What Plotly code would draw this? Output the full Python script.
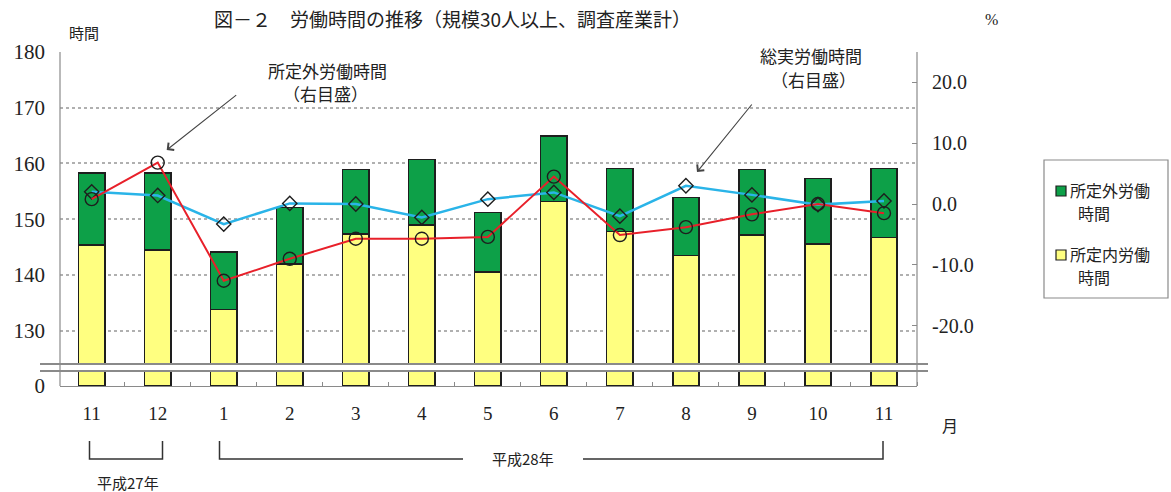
import plotly.graph_objects as go

# ---------------- data ----------------
months = ["11", "12", "1", "2", "3", "4", "5", "6", "7", "8", "9", "10", "11"]
x_pos = list(range(len(months)))
scheduled_hours = [145.4, 144.5, 133.8, 142.0, 147.4, 149.0, 140.5, 153.2, 147.8, 143.5, 147.2, 145.6, 146.7]
overtime_hours = [12.9, 13.8, 10.3, 10.1, 11.5, 11.7, 10.7, 11.7, 11.3, 10.4, 11.7, 11.7, 12.4]
overtime_yoy = [0.8, 6.8, -12.6, -9.0, -5.7, -5.7, -5.4, 4.5, -5.1, -3.8, -1.7, 0.0, -1.5]
total_yoy = [2.0, 1.4, -3.3, 0.1, 0.0, -2.2, 0.8, 1.9, -2.0, 3.0, 1.5, -0.1, 0.5]
left_ticks = [130, 140, 150, 160, 170, 180]
right_ticks = [-20, -10, 0, 10, 20]
right_ticktext = ["-20.0", "-10.0", "0.0", "10.0", "20.0"]

# ---------------- styling ----------------
W, H = 1171, 492
L, R, T, B = 60, 917, 52, 386  # plot area in pixels
SERIF = "Liberation Serif, Noto Sans CJK JP, serif"
JP = "Noto Sans CJK JP, sans-serif"
TXT = "#222222"
GRAY = "#8a8a8a"
YELLOW = "#FFFF80"
GREEN = "#0DA048"
RED = "#E8202A"
BLUE = "#2AB4E8"
OUT = "#1e1e1e"


def px(xp):
    return (xp - L) / (R - L)


def py(yp):
    return (B - yp) / (B - T)


top_lo = py(364)
bot_hi = py(371)

fig = go.Figure()

for yax in ("y", "y2"):
    fig.add_trace(go.Bar(
        x=x_pos, y=scheduled_hours, yaxis=yax, width=0.4,
        marker=dict(color=YELLOW, line=dict(color=OUT, width=1.6)),
        name="所定内労働時間", showlegend=False, hoverinfo="skip"))
    fig.add_trace(go.Bar(
        x=x_pos, y=overtime_hours, yaxis=yax, width=0.4,
        marker=dict(color=GREEN, line=dict(color=OUT, width=1.6)),
        name="所定外労働時間", showlegend=False, hoverinfo="skip"))

fig.add_trace(go.Scatter(
    x=x_pos, y=total_yoy, yaxis="y3", mode="lines+markers",
    line=dict(color=BLUE, width=2.5),
    marker=dict(symbol="diamond-open", size=11, color=OUT, line=dict(color=OUT, width=1.4)),
    name="総実労働時間", showlegend=False, cliponaxis=False))
fig.add_trace(go.Scatter(
    x=x_pos, y=overtime_yoy, yaxis="y3", mode="lines+markers",
    line=dict(color=RED, width=2),
    marker=dict(symbol="circle-open", size=13, color=OUT, line=dict(color=OUT, width=1.4)),
    name="所定外労働時間", showlegend=False, cliponaxis=False))

shapes = [
    # frame lines
    dict(type="line", xref="paper", yref="paper", x0=0, x1=0, y0=0, y1=1, line=dict(color=GRAY, width=1.2)),
    dict(type="line", xref="paper", yref="paper", x0=1, x1=1, y0=0, y1=1, line=dict(color=GRAY, width=1.2)),
    # axis break lines
    dict(type="line", xref="paper", yref="paper", x0=px(40), x1=px(928), y0=top_lo, y1=top_lo,
         line=dict(color=GRAY, width=2)),
    dict(type="line", xref="paper", yref="paper", x0=px(40), x1=px(928), y0=bot_hi, y1=bot_hi,
         line=dict(color=GRAY, width=2)),
    # year brackets
    dict(type="path", xref="paper", yref="paper",
         path=f"M {px(89.5)},{py(441)} L {px(89.5)},{py(459)} L {px(162.5)},{py(459)} L {px(162.5)},{py(441)}",
         line=dict(color="#333", width=1.5)),
    dict(type="path", xref="paper", yref="paper",
         path=f"M {px(219.5)},{py(441)} L {px(219.5)},{py(459)} L {px(463)},{py(459)}",
         line=dict(color="#333", width=1.5)),
    dict(type="path", xref="paper", yref="paper",
         path=f"M {px(583)},{py(459)} L {px(883)},{py(459)} L {px(883)},{py(441)}",
         line=dict(color="#333", width=1.5)),
    # manual legend
    dict(type="rect", xref="paper", yref="paper", x0=px(1044), x1=px(1168), y0=py(160), y1=py(298),
         line=dict(color=GRAY, width=1.2), fillcolor="white"),
    dict(type="rect", xref="paper", yref="paper", x0=px(1056), x1=px(1066), y0=py(186), y1=py(196),
         line=dict(color=OUT, width=1.2), fillcolor=GREEN),
    dict(type="rect", xref="paper", yref="paper", x0=px(1056), x1=px(1066), y0=py(250), y1=py(260),
         line=dict(color=OUT, width=1.2), fillcolor=YELLOW),
]


def text(t, x, y, size, xanchor="center", font=JP):
    return dict(text=t, xref="paper", yref="paper", x=px(x), y=py(y), showarrow=False,
                xanchor=xanchor, yanchor="middle", font=dict(family=font, size=size, color=TXT))


annotations = [
    text("図－２　労働時間の推移（規模30人以上、調査産業計）", 452, 19, 19),
    text("時間", 84, 33, 15),
    text("%", 991, 20, 16, font=SERIF),
    text("月", 950, 425, 16),
    text("平成27年", 128, 482, 15),
    text("平成28年", 523, 459, 15),
    text("所定外労働時間", 327, 70, 17),
    text("（右目盛）", 325, 93, 17),
    text("総実労働時間", 811, 56, 17),
    text("（右目盛）", 813, 79, 17),
    text("所定外労働", 1068, 190, 16, xanchor="left"),
    text("時間", 1076, 213, 16, xanchor="left"),
    text("所定内労働", 1068, 254, 16, xanchor="left"),
    text("時間", 1076, 277, 16, xanchor="left"),
    dict(text="", xref="paper", yref="paper", x=px(166.7), y=py(150), ax=71, ay=-56,
         showarrow=True, arrowhead=4, arrowsize=1.6, arrowwidth=1.1, arrowcolor="#444", standoff=0),
    dict(text="", xref="paper", yref="paper", x=px(697), y=py(172), ax=56, ay=-69,
         showarrow=True, arrowhead=4, arrowsize=1.6, arrowwidth=1.1, arrowcolor="#444", standoff=0),
]

fig.update_layout(
    width=W, height=H,
    margin=dict(l=L, r=W - R, t=T, b=H - B, pad=0),
    paper_bgcolor="white", plot_bgcolor="rgba(0,0,0,0)",
    barmode="stack", bargap=0.6, showlegend=False,
    font=dict(family=SERIF, color=TXT),
    xaxis=dict(domain=[0, 1], anchor="y", range=[-0.48, 12.5], tickmode="array",
               tickvals=x_pos, ticktext=months, ticks="", showline=True, linecolor=GRAY, linewidth=1.2,
               showgrid=False, zeroline=False, tickfont=dict(family=SERIF, size=19, color=TXT),
               ticklabelstandoff=10,
               minor=dict(tick0=0.5, dtick=1, ticks="inside", ticklen=4, tickcolor=GRAY, tickwidth=1,
                          showgrid=False)),
    yaxis=dict(domain=[0, bot_hi], anchor="x", range=[0, 3], tickmode="array", tickvals=[0],
               ticktext=["0"], showgrid=False, zeroline=False, showline=False, ticks="",
               tickfont=dict(family=SERIF, size=21, color=TXT), ticklabelstandoff=14),
    yaxis2=dict(domain=[top_lo, 1], anchor="x", range=[124.03, 180], tickmode="array",
                tickvals=left_ticks, ticktext=[str(v) for v in left_ticks], showgrid=True,
                gridcolor="#b0b0b0", griddash="dot", gridwidth=1.5, zeroline=False, showline=False,
                ticks="", tickfont=dict(family=SERIF, size=21, color=TXT), ticklabelstandoff=14),
    yaxis3=dict(overlaying="y2", side="right", anchor="x", range=[-26.27, 24.96], tickmode="array",
                tickvals=right_ticks, ticktext=right_ticktext,
                showgrid=False, zeroline=False, showline=False, ticks="inside", ticklen=5,
                tickcolor=GRAY, tickwidth=1.2, tickfont=dict(family=SERIF, size=20, color=TXT),
                ticklabelstandoff=14),
    shapes=shapes,
    annotations=annotations,
)

fig.write_html("out.html", config={"displayModeBar": False},
               post_script="document.body.style.margin='0';document.body.style.padding='0';")
